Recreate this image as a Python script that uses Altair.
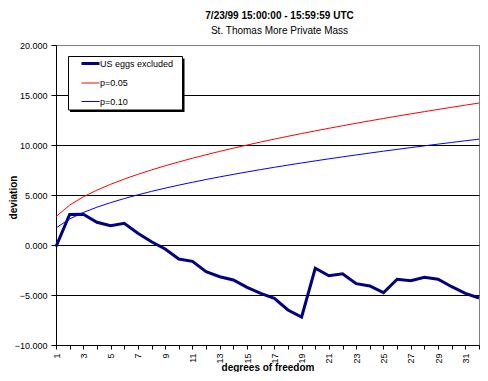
import altair as alt
import pandas as pd

dof = list(range(1, 33))
us_eggs = [-0.17, 3.05, 3.07, 2.27, 1.93, 2.17, 1.17, 0.33, -0.40, -1.40, -1.63, -2.67,
           -3.17, -3.50, -4.23, -4.83, -5.33, -6.50, -7.20, -2.33, -3.07, -2.87, -3.87,
           -4.10, -4.77, -3.43, -3.57, -3.23, -3.43, -4.17, -4.83, -5.30]
p05 = [2.841, 3.991, 4.815, 5.488, 6.070, 6.592, 7.067, 7.507, 7.919, 8.307, 8.675,
       9.026, 9.362, 9.685, 9.996, 10.296, 10.587, 10.869, 11.144, 11.410, 11.671,
       11.924, 12.172, 12.415, 12.652, 12.885, 13.113, 13.337, 13.557, 13.773, 13.985, 14.194]
p10 = [1.706, 2.605, 3.251, 3.779, 4.236, 4.645, 5.017, 5.362, 5.684, 5.987, 6.275,
       6.549, 6.812, 7.064, 7.307, 7.542, 7.769, 7.989, 8.204, 8.412, 8.615, 8.813,
       9.007, 9.196, 9.382, 9.563, 9.741, 9.916, 10.087, 10.256, 10.422, 10.585]
series_names = ["US eggs excluded", "p=0.05", "p=0.10"]
series_colors = ["#000080", "#FF0000", "#0000FF"]
y_ticks = [-10, -5, 0, 5, 10, 15, 20]

rows = []
for name, vals in zip(series_names, [us_eggs, p05, p10]):
    for d, v in zip(dof, vals):
        rows.append({"dof": d, "value": v, "series": name})
df = pd.DataFrame(rows)

FONT = "Liberation Sans"

x_enc = alt.X("dof:Q", scale=alt.Scale(domain=[1, 32], nice=False, zero=False),
              axis=alt.Axis(title="degrees of freedom", values=dof,
                            labelExpr="datum.value % 2 == 1 ? datum.label : ''",
                            labelAngle=270, grid=False, tickSize=4, tickColor="black",
                            domainColor="black", labelFontSize=9, labelFont=FONT,
                            labelColor="black", labelPadding=4,
                            titleFont=FONT, titleFontSize=10,
                            titleFontWeight="bold", titleColor="black",
                            titleY=17, titleBaseline="top"))
y_enc = alt.Y("value:Q", scale=alt.Scale(domain=[-10, 20], nice=False),
              axis=alt.Axis(title="deviation", values=y_ticks, format=".3f",
                            grid=True,
                            gridColor={"condition": [
                                {"test": "datum.value == 20", "value": "#808080"},
                                {"test": "datum.value == -10", "value": "transparent"}],
                                "value": "black"},
                            gridOpacity=1, tickSize=5, tickColor="black",
                            domainColor="black", labelFontSize=9, labelFont=FONT,
                            labelColor="black", labelPadding=4,
                            titleFont=FONT, titleFontSize=10,
                            titleFontWeight="bold", titleColor="black",
                            titleX=-43, titleY=152, titleBaseline="middle"))

lines = alt.Chart(df).mark_line(clip=False).encode(
    x=x_enc,
    y=y_enc,
    color=alt.Color("series:N", scale=alt.Scale(domain=series_names, range=series_colors),
                    legend=alt.Legend(title=None, orient="none", legendX=12, legendY=12,
                                      padding=2, symbolType="M-1.8,0H1.8", symbolSize=100,
                                      symbolOffset=16, labelFont=FONT, labelFontSize=9,
                                      labelColor="black", rowPadding=8.5, labelOffset=5,
                                      symbolStrokeWidth=alt.ExprRef(
                                          expr="datum.value == 'US eggs excluded' ? 3 : 1"))),
    strokeWidth=alt.condition(alt.datum.series == "US eggs excluded", alt.value(3), alt.value(1)),
    order="series:N",
)

# legend frame with its drop shadow
one = pd.DataFrame({"s": [0]})
shadow = alt.Chart(one).mark_rect(color="black").encode(
    x=alt.value(14), x2=alt.value(128.5), y=alt.value(13.5), y2=alt.value(67)
)
frame = alt.Chart(one).mark_rect(fill="white", stroke="black", strokeWidth=1).encode(
    x=alt.value(12.5), x2=alt.value(126.5), y=alt.value(11.5), y2=alt.value(65)
)

chart = alt.layer(shadow, frame, lines).properties(
    width=423, height=300,
    padding={"left": 48, "top": 37, "right": 1, "bottom": 27},
    autosize="none",
    background="white",
    title=alt.Title("7/23/99 15:00:00 - 15:59:59 UTC",
                    subtitle="St. Thomas More Private Mass",
                    font=FONT, fontSize=10, fontWeight="bold", color="black",
                    subtitleFont=FONT, subtitleFontSize=10, subtitleColor="black",
                    subtitlePadding=5, anchor="middle", dx=12, offset=5, frame="group"),
).configure_view(stroke="#808080", strokeWidth=1)

chart.save("out.html", embed_options={"renderer": "svg", "actions": False})
